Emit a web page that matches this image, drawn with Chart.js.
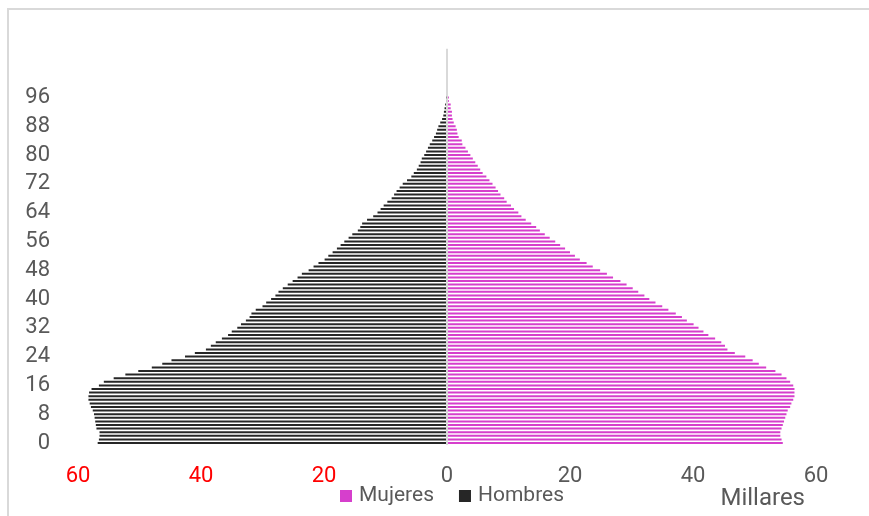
<!DOCTYPE html>
<html>
<head>
<meta charset="utf-8">
<script src="https://cdn.jsdelivr.net/npm/chart.js@4.4.0/dist/chart.umd.min.js"></script>
<style>
  html, body { margin: 0; padding: 0; background: #ffffff; }
  #wrap { width: 869px; height: 516px; position: relative; }
</style>
</head>
<body>
<div id="wrap"><canvas id="c" width="869" height="516"></canvas></div>
<script>
// Edades (categorías)
const edades = [0,1,2,3,4,5,6,7,8,9,10,11,12,13,14,15,16,17,18,19,20,21,22,23,24,25,26,27,28,29,30,31,32,33,34,35,36,37,38,39,40,41,42,43,44,45,46,47,48,49,50,51,52,53,54,55,56,57,58,59,60,61,62,63,64,65,66,67,68,69,70,71,72,73,74,75,76,77,78,79,80,81,82,83,84,85,86,87,88,89,90,91,92,93,94,95,96,97,98,99,100];

// Hombres (miles) por edad
const hombres = [56.8,56.6,56.5,56.5,57.0,57.1,57.2,57.3,57.4,57.6,57.9,58.1,58.3,58.3,58.2,57.8,56.6,55.8,54.2,52.3,50.2,48.0,46.3,44.8,42.6,41.0,39.2,38.4,37.6,36.6,35.6,35.0,34.1,33.5,32.7,32.1,31.8,31.1,30.0,29.4,28.6,27.9,27.4,26.7,25.9,25.1,24.3,23.6,22.5,21.7,20.9,19.9,19.3,18.6,17.9,17.3,16.7,16.0,15.4,14.5,14.1,13.8,13.0,12.0,11.3,10.8,10.3,9.7,9.0,8.6,8.2,7.7,7.2,6.5,5.8,5.4,4.9,4.6,4.3,4.1,3.7,3.4,3.1,2.8,2.4,2.1,1.8,1.6,1.4,1.1,0.8,0.6,0.5,0.4,0.3,0.15,0.1,0,0,0,0];

// Mujeres (miles) por edad
const mujeres = [54.6,54.4,54.2,54.2,54.4,54.6,54.8,55.0,55.2,55.4,55.8,56.0,56.3,56.5,56.5,56.5,56.3,55.8,55.2,54.4,53.4,51.9,50.7,49.7,48.5,46.8,45.6,45.2,44.6,43.6,42.5,41.7,40.9,40.1,39.0,38.2,37.2,36.0,35.0,33.9,32.9,32.1,31.1,30.2,29.2,28.2,27.0,26.0,24.9,23.7,22.7,21.6,20.8,20.0,19.2,18.4,17.6,16.7,15.9,15.1,14.5,13.7,12.8,12.1,11.6,10.9,10.4,9.7,9.3,8.7,8.3,7.9,7.4,6.9,6.4,5.8,5.4,5.0,4.6,4.2,3.8,3.4,3.0,2.5,2.4,1.9,1.7,1.6,1.4,1.1,0.9,0.8,0.8,0.6,0.6,0.3,0.3,0,0,0,0];

// Etiquetas del eje de edades
const etiquetasEdad = [0,8,16,24,32,40,48,56,64,72,80,88,96];
// Etiquetas del eje de valores
const ticksValores = [-60,-40,-20,0,20,40,60];

const nombres = ['Mujeres', 'Hombres'];
const colores = ['#d63fcc', '#262626'];
const FONT = 'Roboto';

const dataMujeres = edades.map((e, i) => ({ y: e, x: mujeres[i] }));
const dataHombres = edades.map((e, i) => ({ y: e, x: -hombres[i] }));

const decor = {
  id: 'decor',
  beforeDraw(chart) {
    const c = chart.ctx;
    c.save();
    c.fillStyle = '#d9d9d9';
    c.fillRect(7, 8, 2, 508);
    c.fillRect(7, 8, 862, 2);
    c.restore();
  },
  afterDraw(chart) {
    const c = chart.ctx;
    c.save();
    c.font = '21px ' + FONT;
    c.textBaseline = 'alphabetic';
    c.textAlign = 'left';
    let x = 340;
    chart.data.datasets.forEach((ds) => {
      c.fillStyle = ds.backgroundColor;
      c.fillRect(x, 490, 12, 12);
      c.fillStyle = '#595959';
      c.fillText(ds.label, x + 19, 501);
      x += 19 + c.measureText(ds.label).width + 25;
    });
    c.font = '24px ' + FONT;
    c.textAlign = 'right';
    c.fillStyle = '#595959';
    c.fillText('Millares', 805, 505);
    c.restore();
  }
};

new Chart(document.getElementById('c'), {
  type: 'bar',
  data: {
    datasets: [
      { label: nombres[0], data: dataMujeres, backgroundColor: colores[0], borderWidth: 0 },
      { label: nombres[1], data: dataHombres, backgroundColor: colores[1], borderWidth: 0 }
    ]
  },
  plugins: [decor],
  options: {
    indexAxis: 'y',
    responsive: false,
    animation: false,
    devicePixelRatio: 1,
    datasets: { bar: { grouped: false, barPercentage: 0.55, categoryPercentage: 1.0 } },
    layout: { padding: { top: 48.8, right: 53, bottom: 23.8, left: 0 } },
    plugins: { legend: { display: false }, tooltip: { enabled: false } },
    scales: {
      x: {
        type: 'linear',
        min: ticksValores[0],
        max: ticksValores[ticksValores.length - 1],
        afterBuildTicks: (s) => { s.ticks = ticksValores.map(v => ({ value: v })); },
        afterFit: (s) => { s.height = 47.4; },
        border: { display: false },
        grid: {
          drawTicks: false,
          lineWidth: 2,
          color: (ctx) => (ctx.tick && ctx.tick.value === 0) ? '#d9d9d9' : 'rgba(0,0,0,0)'
        },
        ticks: {
          padding: 18,
          font: { family: FONT, size: 22 },
          color: (ctx) => (ctx.tick && ctx.tick.value < 0) ? '#ff0000' : '#595959',
          callback: (v) => Math.abs(v)
        }
      },
      y: {
        type: 'linear',
        offset: false,
        min: -0.5,
        max: 109.5,
        afterBuildTicks: (s) => { s.ticks = etiquetasEdad.map(v => ({ value: v })); },
        afterFit: (s) => { s.width = 78; s.paddingTop = 0; s.paddingBottom = 0; },
        border: { display: false },
        grid: { display: false, drawTicks: false, offset: false },
        ticks: {
          padding: 28,
          autoSkip: false,
          font: { family: FONT, size: 22 },
          color: '#595959'
        }
      }
    }
  }
});
</script>
</body>
</html>
